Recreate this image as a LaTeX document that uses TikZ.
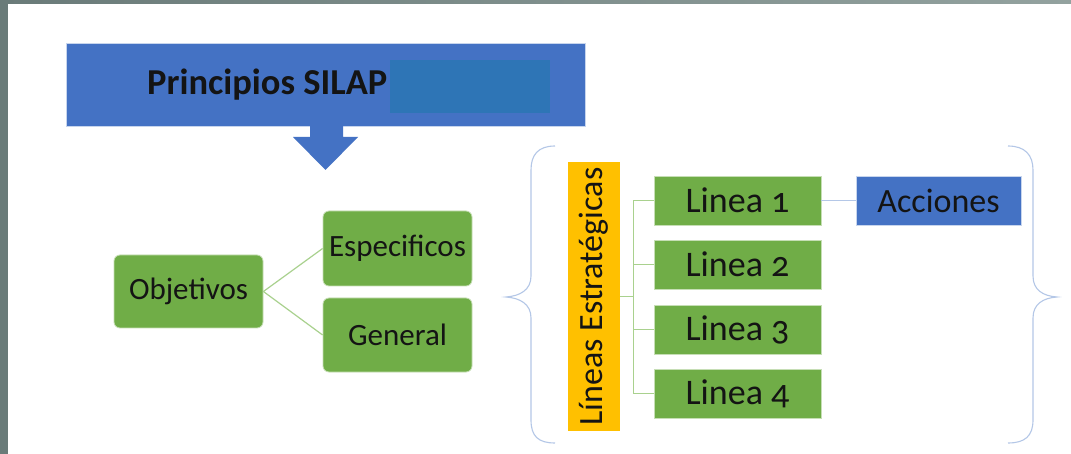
\documentclass[tikz,border=0pt]{standalone}
\usepackage{fontspec}
\setmainfont{Carlito}[Numbers=OldStyle]
\definecolor{bgframe}{HTML}{6A7B79}
\definecolor{bgframe2}{HTML}{93A29F}
\definecolor{banblue}{HTML}{4472C4}
\definecolor{redact}{HTML}{2E75B6}
\definecolor{grn}{HTML}{70AD47}
\definecolor{lgrn}{HTML}{A9D18E}
\definecolor{ylw}{HTML}{FFC000}
\definecolor{brc}{HTML}{B4C7E7}
\definecolor{txt}{HTML}{141414}
\tikzset{
  gbox/.style={fill=grn, draw=white!60!grn, line width=0.8pt, text=txt, inner sep=0pt, minimum width=149pt},
  rbox/.style={gbox, rounded corners=6pt},
  lbox/.style={gbox, minimum width=167pt, minimum height=49pt, font=\fontsize{36}{40}\selectfont},
  conn/.style={draw=lgrn, line width=1.2pt},
  bconn/.style={draw=brc, line width=1.2pt},
  brace/.style={draw=brc, line width=1.1pt},
}
\begin{document}
\begin{tikzpicture}[x=1pt,y=-1pt]
\useasboundingbox (0,0) rectangle (1071,454);
\fill[white] (0,0) rectangle (1071,454);
\shade[left color=bgframe, right color=bgframe2] (0,0) rectangle (1071,4);
\fill[bgframe] (0,0) rectangle (8,454);
% banner
\node[fill=banblue, draw=white!70!banblue, line width=0.6pt, minimum width=519pt, minimum height=83pt, inner sep=0pt] (banner) at (325.5,84.5) {};
\node[fill=redact, minimum width=160pt, minimum height=53pt, inner sep=0pt] (redact) at (470,86.5) {};
\node[anchor=west, inner sep=0pt, text=txt, font=\bfseries\fontsize{36.5}{40}\selectfont] (title) at (147,85) {Principios SILAP};
% arrow
\fill[banblue] (310,126) -- (343,126) -- (343,137) -- (358,137) -- (325.5,170) -- (293,137) -- (310,137) -- cycle;
% objetivos
\node[rbox, minimum height=73pt, font=\fontsize{31}{34}\selectfont] (obj) at (188.5,291.5) {Objetivos};
\node[rbox, minimum height=75pt, font=\fontsize{31}{34}\selectfont] (esp) at (397.5,248.5) {Especificos};
\node[rbox, minimum height=74pt, font=\fontsize{31}{34}\selectfont] (gen) at (397.5,335) {General};
\draw[conn] (obj.east) -- (esp.west);
\draw[conn] (obj.east) -- (gen.west);
% braces
\draw[brace] (555,146) .. controls (538,146) and (531,155) .. (531,170) -- (531,276) .. controls (531,290) and (520,296) .. (506,297) .. controls (520,298) and (531,304) .. (531,318) -- (531,420) .. controls (531,436) and (538,443) .. (555,443);
\draw[brace] (1008,146) .. controls (1025,146) and (1033,155) .. (1033,170) -- (1033,276) .. controls (1033,290) and (1043,296) .. (1057,297) .. controls (1043,298) and (1033,304) .. (1033,318) -- (1033,420) .. controls (1033,436) and (1025,443) .. (1008,443);
% lineas
\node[fill=ylw, minimum width=52pt, minimum height=269pt, inner sep=0pt] (yel) at (594,296.5) {};
\node[rotate=90, text=txt, inner sep=0pt, font=\fontsize{34}{38}\selectfont] (yeltxt) at (yel.center) {Líneas Estratégicas};
\node[lbox] (l1) at (737.5,200.5) {Linea 1};
\node[lbox] (l2) at (737.5,264.5) {Linea 2};
\node[lbox] (l3) at (737.5,329.5) {Linea 3};
\node[lbox] (l4) at (737.5,393.5) {Linea 4};
\node[fill=banblue, draw=white!70!banblue, line width=0.6pt, minimum width=165pt, minimum height=49pt, inner sep=0pt, text=txt, font=\fontsize{34}{38}\selectfont] (acc) at (938.5,200.5) {Acciones};
\draw[conn] (yel.east) -- ++(13,0) coordinate (j);
\draw[conn] (j |- l1.west) -- (j |- l4.west);
\foreach \n in {l1,l2,l3,l4} { \draw[conn] (j |- \n.west) -- (\n.west); }
\draw[bconn] (l1.east) -- (acc.west);
\end{tikzpicture}
\end{document}
